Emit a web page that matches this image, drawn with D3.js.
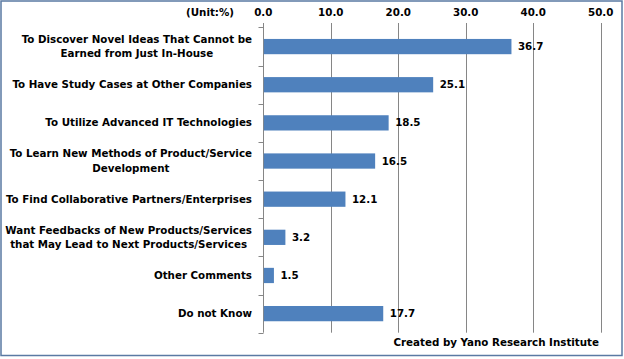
<!DOCTYPE html>
<html><head><meta charset="utf-8">
<script src="https://cdn.jsdelivr.net/npm/d3@7"></script>
<style>body{margin:0;background:#fff}svg{display:block}text{font-family:"DejaVu Sans",sans-serif;font-weight:bold;fill:#000}</style>
</head><body><svg id="c" width="624" height="359"></svg>
<script>
const categories = [
  ["To Discover Novel Ideas That Cannot be", "Earned from Just In-House"],
  ["To Have Study Cases at Other Companies"],
  ["To Utilize Advanced IT Technologies"],
  ["To Learn New Methods of Product/Service", "Development"],
  ["To Find Collaborative Partners/Enterprises"],
  ["Want Feedbacks of New Products/Services", "that May Lead to Next Products/Services"],
  ["Other Comments"],
  ["Do not Know"]
];
const values = [36.7, 25.1, 18.5, 16.5, 12.1, 3.2, 1.5, 17.7];
const tickValues = [0, 10, 20, 30, 40, 50];
const unitLabel = "(Unit:%)";
const sourceLabel = "Created by Yano Research Institute";

(function () {
const svg = d3.select("#c");
const fs = 10.3;
const pL = 263.3, pR = 600.7, pT = 27.5, pB = 332.7;
const x = d3.scaleLinear().domain([0, 50]).range([pL, pR]);
const y = d3.scaleBand().domain(d3.range(categories.length)).range([pT, pB]).paddingInner(0.6).paddingOuter(0.3);

svg.append("rect").attr("x", 1).attr("y", 1).attr("width", 621).attr("height", 354.5)
  .attr("fill", "#fff").attr("stroke", "#5a7aa3").attr("stroke-width", 1.5);

svg.append("g").selectAll("line").data(tickValues).join("line")
  .attr("x1", d => Math.round(x(d)) + 0.5).attr("x2", d => Math.round(x(d)) + 0.5)
  .attr("y1", pT - 4.5).attr("y2", pB)
  .attr("stroke", "#868686").attr("stroke-width", 1);

const step = y.step();
const y0 = y(0) - y.paddingOuter() * step;
svg.append("g").selectAll("line").data(d3.range(categories.length + 1)).join("line")
  .attr("x1", Math.round(pL) + 0.5 - 5).attr("x2", Math.round(pL) + 0.5)
  .attr("y1", i => Math.round(y0 + i * step) + 0.5).attr("y2", i => Math.round(y0 + i * step) + 0.5)
  .attr("stroke", "#868686");

svg.append("g").selectAll("text").data(tickValues).join("text")
  .attr("x", d => x(d)).attr("y", 15.5).attr("text-anchor", "middle")
  .attr("font-size", fs).text(d3.format(".1f"));
svg.append("text").attr("x", 234).attr("y", 15.5).attr("text-anchor", "end")
  .attr("font-size", fs).text(unitLabel);

svg.append("g").selectAll("rect").data(values).join("rect")
  .attr("x", x(0) + 0.5).attr("y", (d, i) => y(i)).attr("height", y.bandwidth())
  .attr("width", d => x(d) - x(0)).attr("fill", "#4f81bd");

svg.append("g").selectAll("text").data(values).join("text")
  .attr("x", d => x(d) + 7).attr("y", (d, i) => y(i) + y.bandwidth() / 2)
  .attr("dy", "0.35em").attr("font-size", fs).text(d => d.toFixed(1));

const lab = svg.append("g");
categories.forEach((lines, i) => {
  const cy = y(i) + y.bandwidth() / 2;
  const lh = 14.5;
  const t = lab.append("text").attr("font-size", fs).attr("text-anchor", "end");
  const start = cy - (lines.length - 1) * lh / 2;
  lines.forEach((l, j) => t.append("tspan").attr("x", 252).attr("y", start + j * lh).attr("dy", "0.35em").text(l));
  if (lines.length > 1) {
    const tsp = t.selectAll("tspan").nodes();
    const w = d3.max(tsp, n => n.getComputedTextLength());
    t.attr("text-anchor", "middle");
    tsp.forEach(n => n.setAttribute("x", 252 - w / 2));
  }
});

svg.append("text").attr("x", 599).attr("y", 345.5).attr("text-anchor", "end")
  .attr("font-size", fs).text(sourceLabel);
})();
</script></body></html>
